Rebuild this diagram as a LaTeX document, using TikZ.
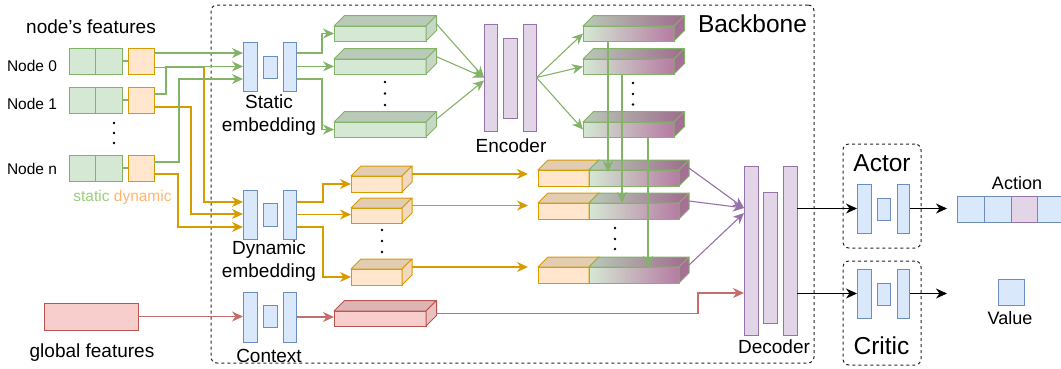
\documentclass[tikz,border=0pt]{standalone}
\usepackage{fontspec}
\setmainfont{Liberation Sans}
\usetikzlibrary{arrows.meta,calc}
\definecolor{blueF}{HTML}{DAE8FC}
\definecolor{blueD}{HTML}{6C8EBF}
\definecolor{purF}{HTML}{E1D5E7}
\definecolor{purD}{HTML}{9673A6}
\definecolor{grF}{HTML}{D5E8D4}
\definecolor{grD}{HTML}{82B366}
\definecolor{grT}{HTML}{B9CAB8}
\definecolor{grS}{HTML}{C6D8C5}
\definecolor{orF}{HTML}{FFE6CC}
\definecolor{orD}{HTML}{D79B00}
\definecolor{orT}{HTML}{E2CCB2}
\definecolor{orS}{HTML}{F0D9C0}
\definecolor{reF}{HTML}{F8CECC}
\definecolor{reD}{HTML}{B85450}
\definecolor{reT}{HTML}{DCB5B4}
\definecolor{reS}{HTML}{E8C2C0}
\definecolor{gradR}{HTML}{B67BA3}
\definecolor{gradTL}{HTML}{B9CAB8}
\definecolor{gradTR}{HTML}{9E6B8E}
\definecolor{gradS}{HTML}{A86F96}
\definecolor{statC}{HTML}{97D077}
\definecolor{dynC}{HTML}{FFB570}
\newcommand\rbox[6]{\node[#1, minimum width=#5pt, minimum height=#6pt] (#2) at (#3,#4) {};}
\newcommand\cube[7]{%
  \node[box, #1front, minimum width=#5pt, minimum height=#6pt] (#2) at (#3,#4) {};
  \path[#1top] (#2.north west) -- ++(#7,-#7) -- ++(#5,0) -- (#2.north east) -- cycle;
  \path[#1side] (#2.north east) -- ++(#7,-#7) -- ++(0,#6) -- (#2.south east) -- cycle;
}
\begin{document}
\begin{tikzpicture}[x=1pt,y=-1pt,
  box/.style={draw, line width=1pt, inner sep=0pt, outer sep=0pt, anchor=north west},
  bluebar/.style={box, fill=blueF, draw=blueD},
  purbar/.style={box, fill=purF, draw=purD},
  gcell/.style={box, fill=grF, draw=grD},
  ocell/.style={box, fill=orF, draw=orD},
  rcell/.style={box, fill=reF, draw=reD},
  dashbox/.style={box, draw=black!85, dash pattern=on 3pt off 3pt, rounded corners=6pt},
  face/.style={line width=1pt, line join=round},
  gfront/.style={fill=grF, draw=grD},
  gtop/.style={face, fill=grT, draw=grD},
  gside/.style={face, fill=grS, draw=grD},
  ofront/.style={fill=orF, draw=orD},
  otop/.style={face, fill=orT, draw=orD},
  oside/.style={face, fill=orS, draw=orD},
  rfront/.style={fill=reF, draw=reD},
  rtop/.style={face, fill=reT, draw=reD},
  rside/.style={face, fill=reS, draw=reD},
  mfront/.style={left color=grF, right color=gradR, draw=grD},
  mtop/.style={face, left color=gradTL, right color=gradTR, draw=grD},
  mside/.style={face, fill=gradS, draw=grD},
  tip/.style={-{Stealth[length=11pt,width=10pt,inset=3.5pt]}},
  conn/.style={line width=1.1pt},
  gline/.style={conn, draw=grD},
  garrow/.style={gline, tip},
  oarrow/.style={conn, draw=orD, tip},
  rarrow/.style={conn, draw=reD!85, tip},
  parrow/.style={conn, draw=purD, tip},
  karrow/.style={conn, draw=black, tip},
  lbl/.style={inner sep=0pt, outer sep=0pt, align=center},
  lbl15/.style={lbl, font=\fontsize{15.5}{18}\selectfont},
  lbl18/.style={lbl, font=\fontsize{18}{22}\selectfont},
  lbl19/.style={lbl, font=\fontsize{19}{23.4}\selectfont},
  lbl25/.style={lbl, font=\fontsize{24.5}{29}\selectfont},
]
\useasboundingbox (0,0) rectangle (1061,368);

% containers
\node[dashbox, minimum width=603pt, minimum height=358pt] (backbone) at (211,5) {};
\node[dashbox, minimum width=78pt, minimum height=104pt] (actorbox) at (843,144) {};
\node[dashbox, minimum width=78pt, minimum height=104pt] (criticbox) at (843,261) {};

% node features
\rbox{gcell}{g0a}{69}{48}{26.5}{26}
\rbox{gcell}{g0b}{95.5}{48}{26.5}{26}
\rbox{ocell}{o0}{128}{48}{26}{26}
\rbox{gcell}{g1a}{69}{87}{26.5}{26}
\rbox{gcell}{g1b}{95.5}{87}{26.5}{26}
\rbox{ocell}{o1}{128}{87}{26}{26}
\rbox{gcell}{gna}{69}{155}{26.5}{26}
\rbox{gcell}{gnb}{95.5}{155}{26.5}{26}
\rbox{ocell}{on}{128}{155}{26}{26}
\draw[gline] (g0b.east) -- (o0.west);
\draw[gline] (g1b.east) -- (o1.west);
\draw[gline] (gnb.east) -- (on.west);
\rbox{rcell}{gf}{44}{303}{94}{27}

% embeddings
\rbox{bluebar}{se1}{243}{42}{14}{49}
\rbox{bluebar}{se2}{263}{56}{14}{22}
\rbox{bluebar}{se3}{283}{42}{13.5}{49}
\rbox{bluebar}{de1}{243}{190}{14}{49}
\rbox{bluebar}{de2}{263}{203}{14}{23}
\rbox{bluebar}{de3}{283}{190}{13.5}{49}
\rbox{bluebar}{cx1}{243}{292}{14}{50}
\rbox{bluebar}{cx2}{263}{305}{14}{22}
\rbox{bluebar}{cx3}{283}{292}{13.5}{50}

% encoder / decoder
\rbox{purbar}{en1}{484}{24}{13.5}{107}
\rbox{purbar}{en2}{503}{38}{14}{80}
\rbox{purbar}{en3}{523}{24}{13.5}{107}
\rbox{purbar}{dc1}{744}{166}{14}{169}
\rbox{purbar}{dc2}{763}{192}{14}{131}
\rbox{purbar}{dc3}{783}{166}{14}{169}

% actor / critic
\rbox{bluebar}{ac1}{857}{184}{14}{49}
\rbox{bluebar}{ac2}{877}{198}{13}{22}
\rbox{bluebar}{ac3}{897}{184}{12.5}{49}
\rbox{bluebar}{cr1}{857}{269}{14}{49}
\rbox{bluebar}{cr2}{877}{283}{13}{22}
\rbox{bluebar}{cr3}{897}{269}{12.5}{49}

% outputs
\rbox{bluebar}{act1}{957}{196}{27}{26}
\rbox{bluebar}{act2}{984}{196}{27}{26}
\rbox{purbar}{act3}{1011}{196}{26}{26}
\rbox{bluebar}{act4}{1037}{196}{27}{26}
\rbox{bluebar}{value}{998}{279}{26}{26}

% 3D boxes
\cube{g}{sb1}{334}{26}{92}{15}{10.5}
\cube{g}{sb2}{334}{59}{92}{15}{10.5}
\cube{g}{sb3}{334}{122}{92}{15}{10.5}
\cube{o}{ob1}{351}{176}{51}{16}{10}
\cube{o}{ob2}{351}{208}{51}{15}{10}
\cube{o}{ob3}{351}{269}{51}{16}{10}
\cube{r}{rb}{334}{311}{92}{15}{10.5}
\cube{m}{gb1}{583}{26}{91}{15}{10.5}
\cube{m}{gb2}{583}{59}{91}{15}{10.5}
\cube{m}{gb3}{583}{122}{91}{15}{10.5}
\cube{o}{cbo1}{538}{170}{51}{16}{10}
\cube{m}{cbg1}{589}{170}{90}{16}{10}
\cube{o}{cbo2}{538}{203}{51}{16}{10}
\cube{m}{cbg2}{589}{203}{90}{16}{10}
\cube{o}{cbo3}{538}{267}{51}{16}{10}
\cube{m}{cbg3}{589}{267}{90}{16}{10}

% dots
\foreach \yy in {123,133,143} \fill (114,\yy) circle (1.3);
\foreach \yy in {82,93.5,105} \fill (385,\yy) circle (1.3);
\foreach \yy in {83,94,104.5} \fill (633,\yy) circle (1.3);
\foreach \yy in {230,241,252} \fill (382,\yy) circle (1.3);
\foreach \yy in {228,239,249} \fill (615,\yy) circle (1.3);

% feature connectors
\draw[oarrow] (o0.east |- 0,67.6) -- (204,67.6) |- (de1.west |- 0,202);
\draw[garrow] (o0.east |- 0,53) -- (se1.west |- 0,53);
\draw[oarrow] (o1.east |- 0,107) -- (191,107) |- (de1.west |- 0,214);
\draw[garrow] (o1.east |- 0,94) -- (166,94) |- (se1.west |- 0,66.4);
\draw[oarrow] (on.east |- 0,174) -- (178,174) |- (de1.west |- 0,227);
\draw[garrow] (on.east |- 0,162) -- (179,162) |- (se1.west |- 0,79);

% embedding outputs
\draw[garrow] (se3.east |- 0,53) -- (322,53) |- (sb1.west);
\draw[garrow] (se3.east |- 0,66.4) -- (sb2.west |- 0,66.4);
\draw[garrow] (se3.east |- 0,79) -- (322,79) |- (sb3.west);
\draw[oarrow] (de3.east |- 0,202) -- (323,202) |- (ob1.west);
\draw[oarrow] (de3.east |- 0,214.5) -- (ob2.west |- 0,214.5);
\draw[oarrow] (de3.east |- 0,227) -- (323,227) |- (ob3.west);
\draw[rarrow] (gf.east) -- (cx1.west |- gf.east);
\draw[rarrow] (cx3.east) -- (rb.west |- cx3.east);

% to encoder
\draw[garrow] ([shift={(10,-10)}]sb1.east) -- (en1.west);
\draw[garrow] ([shift={(10,-10)}]sb2.east) -- (en1.west);
\draw[garrow] ([shift={(10,-10)}]sb3.east) -- ($(en1.west)+(0,3)$);
\draw[garrow] (en3.east) -- (gb1.west);
\draw[garrow] (en3.east) -- (gb2.west);
\draw[garrow] (en3.east) -- (gb3.west);

% encoder outputs down to combined boxes
\draw[garrow] (gb1.south -| 608,0) -- ($(cbg1.north -| 608,0)+(0,2)$);
\draw[garrow] (gb2.south -| 622,0) -- (cbg2.north -| 622,0);
\draw[garrow] (gb3.south -| 648,0) -- (cbg3.north -| 648,0);

% dynamic boxes to combined boxes
\coordinate (ob1r) at ([shift={(10,-10)}]ob1.east);
\coordinate (ob2r) at ([shift={(10,-10)}]ob2.east);
\coordinate (ob3r) at ([shift={(10,-10)}]ob3.east);
\draw[oarrow, shorten >=10pt] (ob1r) -- (ob1r -| cbo1.west);
\draw[oarrow, shorten >=10pt] (ob2r) -- (ob2r -| cbo2.west);
\draw[oarrow, shorten >=10pt] (ob3r) -- (ob3r -| cbo3.west);

% combined to decoder
\draw[parrow] ([shift={(10,-10)}]cbg1.east) -- ($(dc1.north west)+(0,42)$);
\draw[parrow] ([shift={(10,-10)}]cbg2.east) -- ($(dc1.north west)+(0,42)$);
\draw[parrow] ([shift={(10,-10)}]cbg3.east) -- ($(dc1.north west)+(0,47)$);

% context to decoder
\coordinate (rbr) at ([shift={(10,-5)}]rb.east);
\draw[rarrow] (rbr) -- (rbr -| 698,0) |- (dc1.west |- 0,293);

% heads
\draw[karrow] (dc3.east |- ac1.west) -- (ac1.west);
\draw[karrow] (dc3.east |- cr1.west) -- (cr1.west);
\coordinate (aout) at (947,208.5);
\coordinate (cout) at (947,293.5);
\draw[karrow] (ac3.east) -- (aout);
\draw[karrow] (cr3.east) -- (cout);

% labels
\node[lbl19] (nfl) at (91,26.7) {node's features};
\node[lbl15] (n0l) at (32,65.5) {Node 0};
\node[lbl15] (n1l) at (32,103.5) {Node 1};
\node[lbl15] (nnl) at (32,168.5) {Node n};
\node[lbl15] (sdl) at (122.5,197.5) {\textcolor{statC}{static} \textcolor{dynC}{dynamic}};
\node[lbl19] (stl) at (269,115) {Static\\embedding};
\node[lbl19] (dyl) at (269,261) {Dynamic\\embedding};
\node[lbl19] (cxl) at (269,355.5) {Context};
\node[lbl19] (gfl) at (92,353) {global features};
\node[lbl19] (enl) at (511,146) {Encoder};
\node[lbl19] (dcl) at (774,347) {Decoder};
\node[lbl25] (bbl) at (752.5,23.5) {Backbone};
\node[lbl25] (acl) at (882,163.5) {Actor};
\node[lbl25] (crl) at (881.5,346) {Critic};
\node[lbl18] (atl) at (1017,183) {Action};
\node[lbl18] (vll) at (1010,318.5) {Value};
\end{tikzpicture}
\end{document}
